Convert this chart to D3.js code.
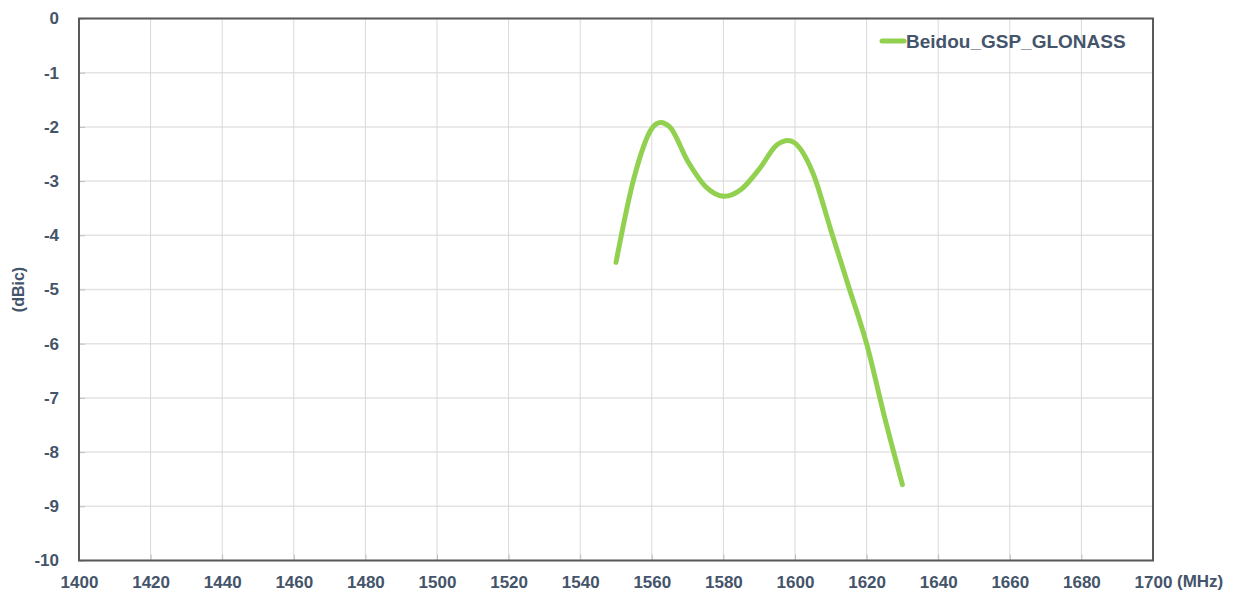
<!DOCTYPE html>
<html>
<head>
<meta charset="utf-8">
<script src="https://cdn.jsdelivr.net/npm/d3@7"></script>
<style>
  body { margin: 0; background: #fff; }
  svg text { font-family: "Liberation Sans", Arial, sans-serif; font-weight: bold; fill: #44546a; }
</style>
</head>
<body>
<svg id="chart" width="1233" height="595"></svg>
<script>
// data
const freqs = [1550, 1555, 1560, 1565, 1570, 1575, 1580, 1585, 1590, 1595, 1600, 1605, 1610, 1615, 1620, 1625, 1630];
const gain = [-4.5, -2.95, -2.03, -2.0, -2.63, -3.1, -3.28, -3.15, -2.78, -2.33, -2.3, -2.85, -3.9, -4.95, -6.0, -7.35, -8.6];
const seriesName = "Beidou_GSP_GLONASS";
const xTicks = d3.range(1400, 1701, 20);
const yTicks = d3.range(0, -10.1, -1);

const svg = d3.select("#chart");
const margin = { left: 79, right: 80, top: 18.5, bottom: 34.5 };
const W = 1233, H = 595;

const x = d3.scaleLinear().domain([1400, 1700]).range([margin.left, W - margin.right]);
const y = d3.scaleLinear().domain([-10, 0]).range([H - margin.bottom, margin.top]);

// grid
svg.append("g")
  .selectAll("line")
  .data(yTicks)
  .enter().append("line")
  .attr("x1", x(1400)).attr("x2", x(1700))
  .attr("y1", d => y(d)).attr("y2", d => y(d))
  .attr("stroke", "#e3e3e3").attr("stroke-width", 1.5);

svg.append("g")
  .selectAll("line")
  .data(xTicks)
  .enter().append("line")
  .attr("x1", d => x(d)).attr("x2", d => x(d))
  .attr("y1", y(0)).attr("y2", y(-10))
  .attr("stroke", "#d9d9d9").attr("stroke-width", 1);

// axes with inner ticks
const plain = d => String(d);
const xAxis = svg.append("g")
  .attr("transform", `translate(0,${y(-10)})`)
  .call(d3.axisBottom(x).tickValues(xTicks).tickSizeInner(-6).tickSizeOuter(0).tickPadding(15).tickFormat(plain));
const yAxis = svg.append("g")
  .attr("transform", `translate(${x(1400)},0)`)
  .call(d3.axisLeft(y).tickValues(yTicks).tickSizeInner(-6).tickSizeOuter(0).tickPadding(20).tickFormat(plain));

[xAxis, yAxis].forEach(g => {
  g.select(".domain").remove();
  g.selectAll(".tick line").attr("stroke", "#bfbfbf");
  g.selectAll("text").style("font-size", "17px").attr("fill", "#44546a");
});

// frame
svg.append("rect")
  .attr("x", x(1400)).attr("y", y(0))
  .attr("width", x(1700) - x(1400)).attr("height", y(-10) - y(0))
  .attr("fill", "none").attr("stroke", "#595959").attr("stroke-width", 2);

// unit labels
svg.append("text")
  .attr("x", x(1700) + 24).attr("y", 587)
  .style("font-size", "17px")
  .text("(MHz)");

svg.append("text")
  .attr("transform", `translate(24,${(y(0) + y(-10)) / 2}) rotate(-90)`)
  .attr("text-anchor", "middle")
  .style("font-size", "16px")
  .text("(dBic)");

// series
const line = d3.line()
  .x((d, i) => x(freqs[i]))
  .y(d => y(d))
  .curve(d3.curveCardinal.tension(0));

svg.append("path")
  .datum(gain)
  .attr("d", line)
  .attr("fill", "none")
  .attr("stroke", "#92d050")
  .attr("stroke-width", 5)
  .attr("stroke-linecap", "round")
  .attr("stroke-linejoin", "round");

// legend
const lg = svg.append("g").attr("transform", "translate(880,41)");
lg.append("line")
  .attr("x1", 2).attr("x2", 24)
  .attr("stroke", "#92d050").attr("stroke-width", 5).attr("stroke-linecap", "round");
lg.append("text")
  .attr("x", 26).attr("y", 7)
  .style("font-size", "19px")
  .text(seriesName);
</script>
</body>
</html>
